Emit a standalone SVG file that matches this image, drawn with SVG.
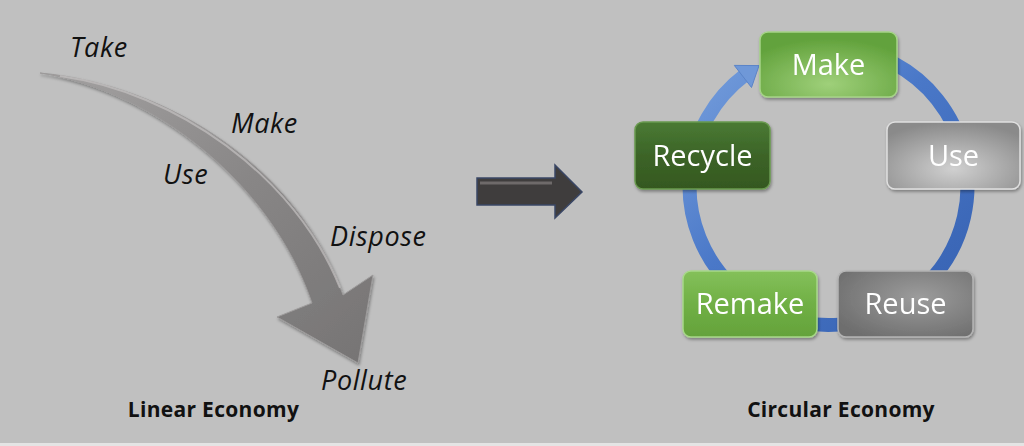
<svg xmlns="http://www.w3.org/2000/svg" width="1024" height="446" viewBox="0 0 1024 446">
<defs>
<style>
.lbl{font-family:"Open Sans","Liberation Sans",sans-serif;font-style:italic;font-size:27px;letter-spacing:0.6px;fill:#111}
.cap{font-family:"Open Sans","Liberation Sans",sans-serif;font-weight:bold;font-size:21px;letter-spacing:0.3px;fill:#111;text-anchor:middle}
.bt{font-family:"Open Sans","Liberation Sans",sans-serif;font-size:29px;fill:#fff;text-anchor:middle}
.box{stroke-width:1.5}
</style>
<linearGradient id="gArrow" x1="0" y1="0" x2="1" y2="1">
<stop offset="0" stop-color="#a4a2a2"/>
<stop offset="0.5" stop-color="#888686"/>
<stop offset="1" stop-color="#767474"/>
</linearGradient>
<linearGradient id="gRing" gradientUnits="userSpaceOnUse" x1="700" y1="40" x2="960" y2="330">
<stop offset="0" stop-color="#7aa2de"/>
<stop offset="0.45" stop-color="#4a78c8"/>
<stop offset="1" stop-color="#3560b0"/>
</linearGradient>
<radialGradient id="gMake" cx="0.5" cy="0.8" r="0.7">
<stop offset="0" stop-color="#9fd07a"/>
<stop offset="1" stop-color="#62a23c"/>
</radialGradient>
<linearGradient id="gRecycle" x1="0" y1="0" x2="0" y2="1">
<stop offset="0" stop-color="#4a7a33"/>
<stop offset="0.5" stop-color="#3c6428"/>
<stop offset="1" stop-color="#35581f"/>
</linearGradient>
<radialGradient id="gUse" cx="0.5" cy="0.7" r="0.7">
<stop offset="0" stop-color="#d0d0d0"/>
<stop offset="1" stop-color="#8a8a8a"/>
</radialGradient>
<linearGradient id="gRemake" x1="0" y1="0" x2="0" y2="1">
<stop offset="0" stop-color="#84c05a"/>
<stop offset="0.5" stop-color="#70b045"/>
<stop offset="1" stop-color="#64a23b"/>
</linearGradient>
<radialGradient id="gReuse" cx="0.6" cy="0.4" r="0.7">
<stop offset="0" stop-color="#9c9c9c"/>
<stop offset="1" stop-color="#6e6e6e"/>
</radialGradient>
<filter id="sh" x="-10%" y="-10%" width="125%" height="130%">
<feDropShadow dx="1" dy="2" stdDeviation="1.5" flood-color="#000" flood-opacity="0.35"/>
</filter>
</defs>
<rect x="0" y="0" width="1024" height="446" fill="#c0c0c0"/>
<rect x="0" y="443" width="1024" height="3" fill="#e4e4e4"/>

<g id="connectors">
<g id="linear-arrow" filter="url(#sh)">
<path d="M40,73 C170,85 300,170 343,295 L373,275 L358,363 L277,317 L312,303 C270,180 150,90 40,73 Z" fill="url(#gArrow)" stroke="#9c9a9a" stroke-width="1"/>
<path d="M60,76 C175,92 295,175 340,288" fill="none" stroke="#c4c2c2" stroke-width="2" opacity="0.7"/>
</g>
<g id="transition-arrow">
<polygon points="477,178 555,178 555,165 582,192 555,218 555,205 477,205" fill="#3f3d3d" stroke="#3a4766" stroke-width="1.5"/>
<line x1="480" y1="183" x2="552" y2="183" stroke="#6e6a6a" stroke-width="3"/>
</g>
<g id="cycle-ring">
<path d="M893.7,63.3 A139,139 0 1 1 744.9,75.0" fill="none" stroke="url(#gRing)" stroke-width="14"/>
<polygon points="751.5,87.5 734.3,65.4 759,65.6" fill="#6f98d8" stroke="#5a84c8" stroke-width="1"/>
</g>
</g>

<g id="lin-labels">
<text class="lbl" x="70" y="57">Take</text>
<text class="lbl" x="231" y="133">Make</text>
<text class="lbl" x="163" y="184">Use</text>
<text class="lbl" x="330" y="246">Dispose</text>
<text class="lbl" x="321" y="390">Pollute</text>
</g>

<g id="node-make" filter="url(#sh)">
<rect class="box" x="760" y="32" width="137" height="65" rx="8" fill="url(#gMake)" stroke="#a6d488"/>
<text class="bt" x="828.5" y="75">Make</text>
</g>
<g id="node-recycle" filter="url(#sh)">
<rect class="box" x="635" y="122" width="135" height="67" rx="8" fill="url(#gRecycle)" stroke="#6a9a50"/>
<text class="bt" x="702.5" y="166">Recycle</text>
</g>
<g id="node-use" filter="url(#sh)">
<rect class="box" x="887" y="122" width="133" height="67" rx="8" fill="url(#gUse)" stroke="#e0e0e0"/>
<text class="bt" x="953.5" y="166">Use</text>
</g>
<g id="node-remake" filter="url(#sh)">
<rect class="box" x="683" y="271" width="134" height="66" rx="8" fill="url(#gRemake)" stroke="#a8d88a"/>
<text class="bt" x="750" y="314">Remake</text>
</g>
<g id="node-reuse" filter="url(#sh)">
<rect class="box" x="838" y="271" width="135" height="66" rx="8" fill="url(#gReuse)" stroke="#b4b4b4"/>
<text class="bt" x="905.5" y="314">Reuse</text>
</g>

<g id="captions">
<text class="cap" x="213.5" y="417">Linear Economy</text>
<text class="cap" x="841" y="417">Circular Economy</text>
</g>
</svg>
